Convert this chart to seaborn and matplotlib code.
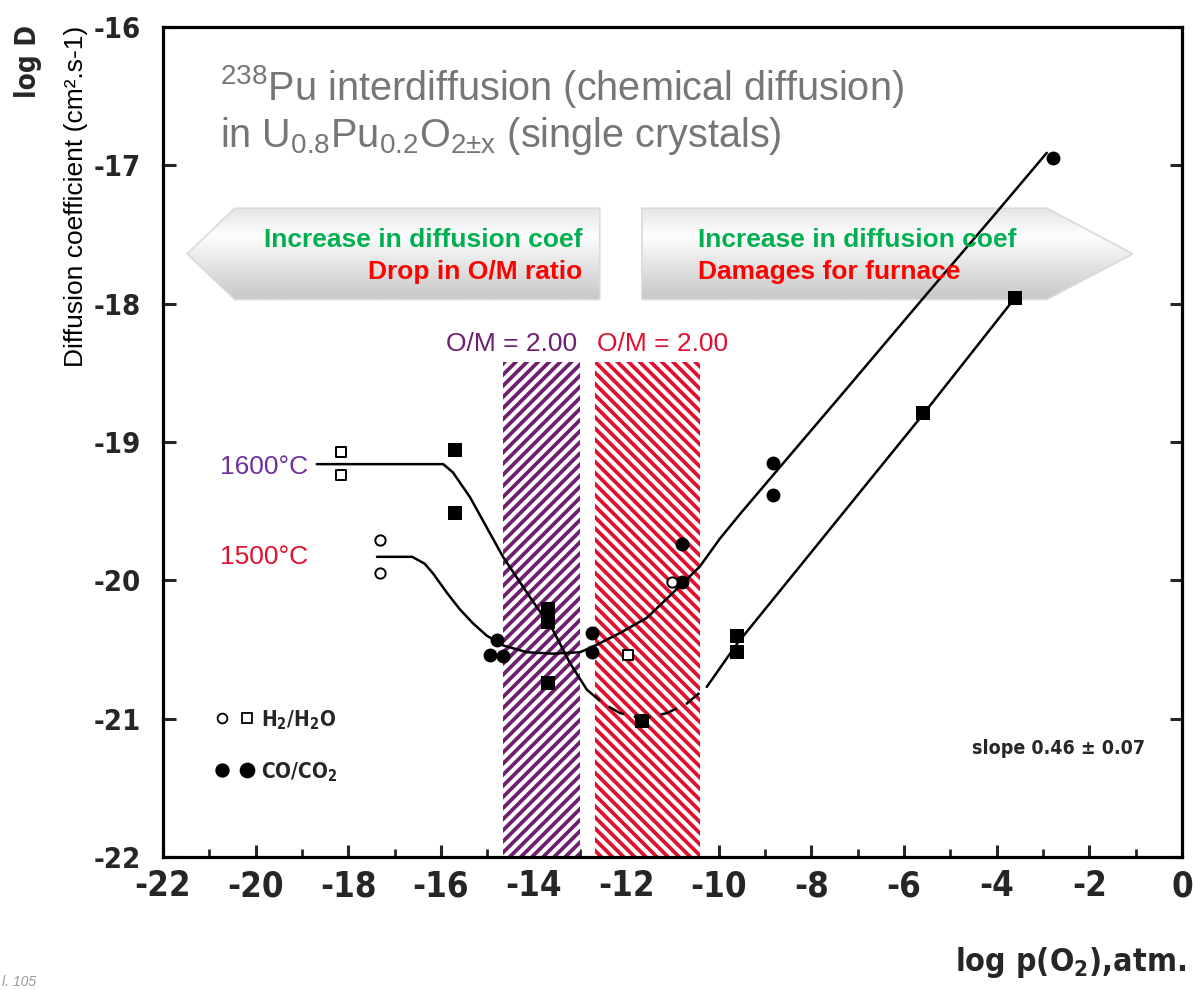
import numpy as np
import pandas as pd
import matplotlib
matplotlib.use("Agg")
import matplotlib.pyplot as plt
import seaborn as sns
from matplotlib import font_manager as fm
from matplotlib.patches import Polygon, Rectangle

# ---------------- data ----------------
# open squares: H2/H2O, 1600 C
h2_sq_x = [-18.16, -18.16, -11.96]
h2_sq_y = [-19.07, -19.24, -20.54]
# open circles: H2/H2O, 1500 C
h2_ci_x = [-17.31, -17.31, -11.01]
h2_ci_y = [-19.71, -19.95, -20.01]
# filled squares: CO/CO2, 1600 C
co_sq_x = [-15.70, -15.70, -13.69, -13.69, -13.69, -11.66, -9.61, -9.61, -5.60, -3.61]
co_sq_y = [-19.06, -19.51, -20.21, -20.30, -20.74, -21.02, -20.40, -20.52, -18.79, -17.96]
# filled circles: CO/CO2, 1500 C
co_ci_x = [-14.79, -14.94, -14.66, -12.74, -12.74, -10.79, -10.79, -8.83, -8.83, -2.79]
co_ci_y = [-20.43, -20.54, -20.55, -20.38, -20.52, -19.74, -20.01, -19.15, -19.38, -16.95]

# fitted curves
c1600_a_x = [-18.68, -15.95, -15.74, -15.37, -14.66, -14.08, -13.58, -13.21, -12.85]
c1600_a_y = [-19.16, -19.16, -19.22, -19.40, -19.83, -20.12, -20.36, -20.60, -20.79]
c1600_d_x = [-12.85, -12.50, -12.13, -11.64, -11.12, -10.69, -10.26]
c1600_d_y = [-20.79, -20.89, -20.96, -21.00, -20.96, -20.89, -20.77]
c1600_b_x = [-10.26, -9.61, -5.59, -3.61]
c1600_b_y = [-20.77, -20.46, -18.80, -17.96]

c1500_x = [-17.38, -16.62, -16.35, -16.17, -15.87, -15.59, -15.31, -15.01, -14.66, -14.14,
           -13.58, -13.00, -12.72, -12.13, -11.55, -10.99, -10.41, -9.98, -9.54, -8.83,
           -7.38, -5.51, -4.08, -2.92]
c1500_y = [-19.83, -19.83, -19.88, -19.95, -20.09, -20.21, -20.31, -20.40, -20.47, -20.52,
           -20.53, -20.52, -20.48, -20.38, -20.27, -20.09, -19.90, -19.70, -19.52, -19.24,
           -18.67, -17.93, -17.37, -16.91]

# O/M = 2.00 bands (x range, top y)
band_purple = (-14.66, -13.00, -18.42)
band_red = (-12.67, -10.41, -18.42)

x_ticks = list(range(-22, 1, 2))
y_ticks = list(range(-22, -15, 1))

# ---------------- style ----------------
sns.set_theme(style="white")
names = {f.name for f in fm.fontManager.ttflist}
COND = "Liberation Sans Narrow" if "Liberation Sans Narrow" in names else "DejaVu Sans"
SANS = "Liberation Sans" if "Liberation Sans" in names else "DejaVu Sans"
plt.rcParams["font.family"] = [SANS, "DejaVu Sans"]
plt.rcParams["mathtext.default"] = "regular"
plt.rcParams["hatch.linewidth"] = 2.7

W, H = 1193, 990
fig = plt.figure(figsize=(W / 100, H / 100), dpi=100)
ax = fig.add_axes([163 / W, 1 - 857 / H, (1182 - 163) / W, (857 - 27) / H])

def fp(x, y):
    return (x / W, 1 - y / H)

condfont = dict(family=[COND, "DejaVu Sans"], fontweight="bold",
                fontstretch="condensed")

# gradient arrows (decoration)
def grad_arrow(verts, zorder=1):
    poly = Polygon(verts, closed=True, facecolor="none", edgecolor="#dadada",
                   lw=1.2, zorder=zorder + 0.1)
    ax.add_patch(poly)
    xs = [v[0] for v in verts]
    ys = [v[1] for v in verts]
    g = np.concatenate([np.linspace(0.90, 0.99, 30), np.linspace(0.99, 0.78, 70)])
    img = np.repeat(g[:, None], 2, axis=1)
    im = ax.imshow(img, cmap="gray", vmin=0, vmax=1, aspect="auto",
                   extent=[min(xs), max(xs), min(ys), max(ys)], origin="upper",
                   zorder=zorder)
    im.set_clip_path(poly)

grad_arrow([(-21.48, -17.64), (-20.45, -17.31), (-12.57, -17.31), (-12.57, -17.97),
            (-20.45, -17.97)])
grad_arrow([(-11.66, -17.31), (-2.92, -17.31), (-1.06, -17.64), (-2.92, -17.97),
            (-11.66, -17.97)])

# hatched bands
for (x0, x1, ytop), col, hatch in [(band_purple, "#6e1f70", "///"),
                                   (band_red, "#e0102f", "\\\\\\")]:
    ax.add_patch(Rectangle((x0, -22), x1 - x0, ytop + 22, facecolor="white",
                           edgecolor=col, hatch=hatch, lw=0, zorder=1.5))

# curves
lk = dict(color="black", lw=1.8, sort=False, estimator=None, ax=ax, zorder=3)
sns.lineplot(x=c1600_a_x, y=c1600_a_y, **lk)
sns.lineplot(x=c1600_d_x, y=c1600_d_y, linestyle=(0, (7, 4)), **lk)
sns.lineplot(x=c1600_b_x, y=c1600_b_y, **lk)
sns.lineplot(x=c1500_x, y=c1500_y, **lk)

# points
sns.scatterplot(x=co_sq_x, y=co_sq_y, marker="s", s=100, color="black",
                edgecolor="black", linewidth=0, ax=ax, zorder=4)
sns.scatterplot(x=co_ci_x, y=co_ci_y, marker="o", s=100, color="black",
                edgecolor="black", linewidth=0, ax=ax, zorder=4)
sns.scatterplot(x=h2_sq_x, y=h2_sq_y, marker="s", s=55, facecolor="white",
                edgecolor="black", linewidth=1.4, ax=ax, zorder=4)
sns.scatterplot(x=h2_ci_x, y=h2_ci_y, marker="o", s=55, facecolor="white",
                edgecolor="black", linewidth=1.4, ax=ax, zorder=4)

# axes
ax.set_xlim(-22, 0)
ax.set_ylim(-22, -16)
ax.set_xticks(x_ticks)
ax.set_xticks(list(range(-21, 0, 2)), minor=True)
ax.set_yticks(y_ticks)
ax.set_xticklabels([str(t) for t in x_ticks])
ax.set_yticklabels([str(t) for t in y_ticks])
for sp in ax.spines.values():
    sp.set_visible(True)
    sp.set_linewidth(2.3)
    sp.set_color("black")
ax.tick_params(axis="x", which="major", direction="in", length=9, width=2.2,
               bottom=True, top=False, pad=9)
ax.tick_params(axis="x", which="minor", direction="in", length=6, width=2.0,
               bottom=True, top=False)
ax.tick_params(axis="y", which="major", direction="in", length=9, width=2.2,
               left=True, right=True, pad=16)
for lab in ax.get_xticklabels():
    lab.set(fontsize=25, **condfont)
for lab in ax.get_yticklabels():
    lab.set(fontsize=21, **condfont)
ax.set_xlabel("")
ax.set_ylabel("")

# texts
fig.text(*fp(28, 62), "log D", rotation=90, ha="center", va="center",
         fontsize=20, **condfont)
fig.text(*fp(76, 196), "Diffusion coefficient (cm\u00b2.s-1)", rotation=90,
         ha="center", va="center", fontsize=19, color="black")
fig.text(*fp(1186, 962), "log p(O$_2$),atm.", ha="right", va="center",
         fontsize=23, **condfont)
fig.text(*fp(220, 100), "$^{238}$Pu interdiffusion (chemical diffusion)",
         ha="left", va="baseline", fontsize=28.5, color="#767676")
fig.text(*fp(220, 147), "in U$_{0.8}$Pu$_{0.2}$O$_{2\u00b1x}$ (single crystals)",
         ha="left", va="baseline", fontsize=28.5, color="#767676")

GREEN, RED = "#00b050", "#ff0000"
AF = 19
fig.text(*fp(582, 240), "Increase in diffusion coef", ha="right", va="center",
         fontsize=AF, fontweight="bold", color=GREEN)
fig.text(*fp(582, 272), "Drop in O/M ratio", ha="right", va="center",
         fontsize=AF, fontweight="bold", color=RED)
fig.text(*fp(698, 240), "Increase in diffusion coef", ha="left", va="center",
         fontsize=AF, fontweight="bold", color=GREEN)
fig.text(*fp(698, 272), "Damages for furnace", ha="left", va="center",
         fontsize=AF, fontweight="bold", color=RED)

fig.text(*fp(512, 344), "O/M = 2.00", ha="center", va="center", fontsize=19,
         color="#6e1f70")
fig.text(*fp(663, 344), "O/M = 2.00", ha="center", va="center", fontsize=19,
         color="#e0102f")
fig.text(*fp(220, 467), "1600\u00b0C", ha="left", va="center", fontsize=19,
         color="#7030a0")
fig.text(*fp(220, 557), "1500\u00b0C", ha="left", va="center", fontsize=19,
         color="#e0102f")

# legend drawn in figure space
for (px, py, fc, m, s) in [(222, 718, "white", "o", 7), (247, 718, "white", "s", 7),
                           (222, 770, "black", "o", 9), (247, 770, "black", "o", 10)]:
    fig.lines.append(plt.Line2D([px / W], [1 - py / H], marker=m, markersize=s,
                                markerfacecolor=fc, markeredgecolor="black",
                                markeredgewidth=1.3, linestyle="none",
                                transform=fig.transFigure))
fig.text(*fp(261, 720), "H$_2$/H$_2$O", ha="left", va="center", fontsize=15,
         **condfont)
fig.text(*fp(261, 772), "CO/CO$_2$", ha="left", va="center", fontsize=15,
         **condfont)
fig.text(*fp(972, 748), "slope 0.46 \u00b1 0.07", ha="left", va="center",
         fontsize=14, **condfont)
fig.text(0.002, 0.001, "l. 105", ha="left", va="bottom", fontsize=10,
         color="#999999", style="italic")

fig.savefig("out.png", dpi=100)
